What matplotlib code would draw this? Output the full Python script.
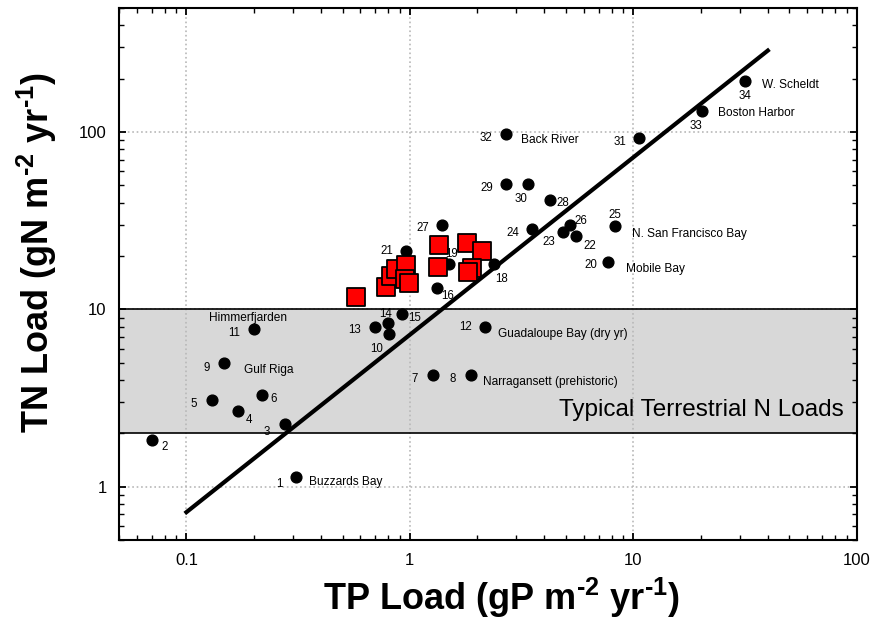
"""
TN vs TP loading scatter for estuaries, with Redfield line and the
typical terrestrial N load band.
"""
import numpy as np
import matplotlib
matplotlib.use('Agg')
import matplotlib.pyplot as plt
from matplotlib.ticker import LogLocator, NullFormatter, FixedLocator, FixedFormatter

plt.rcParams['font.family'] = ['Liberation Sans', 'DejaVu Sans']
plt.rcParams['mathtext.fontset'] = 'custom'
plt.rcParams['mathtext.rm'] = 'Liberation Sans:bold'
plt.rcParams['mathtext.bf'] = 'Liberation Sans:bold'
plt.rcParams['mathtext.it'] = 'Liberation Sans:bold'

# numbered estuaries (black dots)
site_ids = [1, 2, 3, 4, 5, 6, 7, 8, 9, 10, 11, 12, 13, 14, 15, 16, 18, 19,
            20, 21, 22, 23, 24, 25, 26, 27, 28, 29, 30, 31, 32, 33, 34]
tp_load = [0.31, 0.070, 0.277, 0.170, 0.130, 0.219, 1.27, 1.87, 0.148, 0.806,
           0.20, 2.18, 0.70, 0.80, 0.92, 1.32, 2.39, 1.49,
           7.7, 0.96, 5.54, 4.85, 3.53, 8.27, 5.21, 1.39, 4.25, 2.70, 3.39,
           10.6, 2.68, 20.2, 31.7]
tn_load = [1.13, 1.84, 2.27, 2.66, 3.08, 3.29, 4.29, 4.29, 4.96, 7.28,
           7.78, 7.98, 7.98, 8.42, 9.48, 13.2, 18.1, 18.1,
           18.4, 21.3, 25.9, 27.3, 28.5, 29.6, 30.0, 30.0, 41.2, 50.9, 50.9,
           92.4, 97.4, 132, 194]
# where the number goes relative to the dot (offset points)
id_offsets = {1: (-12, -5), 2: (9, -5), 3: (-13, -6), 4: (8, -6), 5: (-13, -3),
              6: (8, -3), 7: (-13, -3), 8: (-13, -3), 9: (-13, -3), 10: (-9, -11),
              11: (-14, -3), 12: (-14, 0), 13: (-15, -2), 14: (-2, 6), 15: (9, -3),
              16: (8, -6), 18: (5, -11), 19: (2, 7), 20: (-12, -2), 21: (-14, 0),
              22: (10, -7), 23: (-10, -7), 24: (-14, -3), 25: (0, 8), 26: (8, 3),
              27: (-14, -2), 28: (9, -2), 29: (-14, -3), 30: (-5, -11), 31: (-14, -3),
              32: (-14, -3), 33: (-4, -11), 34: (0, -11)}

# named sites
name_ids = [1, 8, 9, 11, 12, 20, 25, 32, 33, 34]
name_texts = ['Buzzards Bay', 'Narragansett (prehistoric)', 'Gulf Riga', 'Himmerfjarden',
              'Guadaloupe Bay (dry yr)', 'Mobile Bay', 'N. San Francisco Bay',
              'Back River', 'Boston Harbor', 'W. Scheldt']
name_offsets = [(9, -3), (9, -5), (14, -5), (-4, 8), (9, -5), (13, -5), (12, -6),
                (11, -4), (12, -2), (12, -3)]

# red squares
sq_tp = [0.575, 0.782, 0.823, 0.866, 0.96, 0.95, 0.99, 1.35, 1.33, 1.81, 2.11, 1.89, 1.83]
sq_tn = [11.7, 13.4, 15.5, 17.0, 17.7, 14.9, 14.1, 23.0, 17.4, 23.6, 21.3, 17.2, 16.3]

# Redfield N:P mass ratio line
redfield_ratio = 7.2
line_tp = [0.1, 40]

# terrestrial band
band_lo, band_hi = 2, 10

fig = plt.figure(figsize=(8.76, 6.21), dpi=100)
ax = fig.add_axes([0.136, 0.130, 0.842, 0.857])

ax.axhspan(band_lo, band_hi, facecolor='#d8d8d8', edgecolor='none', zorder=0)
ax.axhline(band_lo, color='black', lw=1.2, zorder=1)
ax.axhline(band_hi, color='black', lw=1.2, zorder=1)
ax.text(0.982, 0.245, 'Typical Terrestrial N Loads', transform=ax.transAxes,
        ha='right', va='center', fontsize=17.5)

ax.set_xscale('log')
ax.set_yscale('log')
ax.set_xlim(0.05, 100)
ax.set_ylim(0.5, 500)

ax.grid(True, which='major', color='#b8b8b8', linestyle=':', linewidth=1.2, zorder=0.5)
ax.set_axisbelow(True)

lx = np.array(line_tp)
ax.plot(lx, redfield_ratio * lx, color='black', lw=3, zorder=3)

ax.scatter(tp_load, tn_load, s=60, color='black', zorder=4)
ax.scatter(sq_tp, sq_tn, s=165, marker='s', facecolor='#ff0000', edgecolor='black',
           linewidth=1.3, zorder=5)

for sid, x, y in zip(site_ids, tp_load, tn_load):
    dx, dy = id_offsets[sid]
    ax.annotate(str(sid), (x, y), xytext=(dx, dy), textcoords='offset points',
                ha='center', va='center', fontsize=8.3, zorder=6)

for sid, txt, (dx, dy) in zip(name_ids, name_texts, name_offsets):
    i = site_ids.index(sid)
    ha = 'center' if sid == 11 else 'left'
    ax.annotate(txt, (tp_load[i], tn_load[i]), xytext=(dx, dy), textcoords='offset points',
                ha=ha, va='center', fontsize=8.6, zorder=6)

ax.xaxis.set_major_locator(FixedLocator([0.1, 1, 10, 100]))
ax.xaxis.set_major_formatter(FixedFormatter(['0.1', '1', '10', '100']))
ax.yaxis.set_major_locator(FixedLocator([1, 10, 100]))
ax.yaxis.set_major_formatter(FixedFormatter(['1', '10', '100']))
for axis in (ax.xaxis, ax.yaxis):
    axis.set_minor_locator(LogLocator(base=10, subs=np.arange(2, 10)))
    axis.set_minor_formatter(NullFormatter())
ax.tick_params(which='both', direction='in', top=True, right=True, labelsize=12)
ax.tick_params(which='major', length=5, width=1.3, pad=9)
ax.tick_params(which='minor', length=3.5, width=1)
for sp in ax.spines.values():
    sp.set_linewidth(1.5)

ax.set_xlabel(r'TP Load (gP m$^{\text{-2}}$ yr$^{\text{-1}}$)', fontsize=26,
              fontweight='bold', labelpad=6)
ax.set_ylabel(r'TN Load (gN m$^{\text{-2}}$ yr$^{\text{-1}}$)', fontsize=26,
              fontweight='bold', labelpad=14)
ax.xaxis.label.set_x(0.519)
ax.yaxis.label.set_y(0.541)

fig.savefig('out.png', dpi=100)
